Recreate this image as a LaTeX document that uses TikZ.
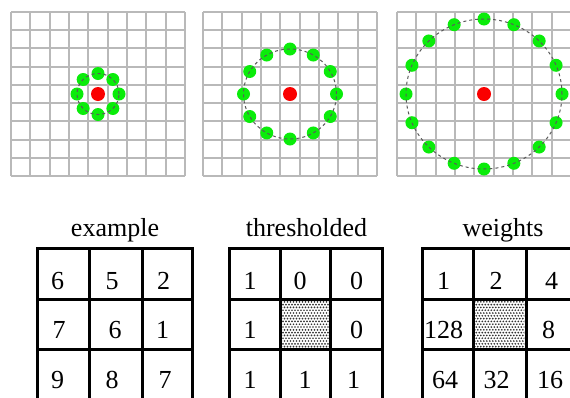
\documentclass[tikz,border=0pt]{standalone}
\usepackage{fontspec}
\setmainfont{Liberation Serif}

\definecolor{ptgreen}{RGB}{10,236,10}
\definecolor{ptred}{RGB}{250,0,0}
\definecolor{gridgray}{RGB}{185,185,185}
\definecolor{ringgray}{RGB}{90,90,90}

\tikzset{
  gridline/.style={draw=gridgray, line width=2pt},
  tableline/.style={draw=black, line width=3pt, line cap=rect},
  greendot/.style={circle, fill=ptgreen, draw=none, minimum size=13pt, inner sep=0pt},
  reddot/.style={circle, fill=ptred, draw=none, minimum size=14pt, inner sep=0pt},
  ring/.style={draw=ringgray, line width=1pt, dash pattern=on 3pt off 3pt},
  caption/.style={font=\fontsize{26}{30}\selectfont, anchor=base, inner sep=0pt},
  cellnum/.style={font=\fontsize{26}{30}\selectfont, anchor=base, inner sep=0pt},
  stippledot/.style={fill=black!80}
}

\begin{document}
\begin{tikzpicture}[x=1pt,y=-1pt]
\useasboundingbox (0,0) rectangle (570,397);
\clip (0,0) rectangle (570,397);
\fill[white] (0,0) rectangle (570,397);

% ---- three 9x9 pixel grids (lines snapped to whole points) ----
\foreach \gx in {11,203,397} {
  \pgfmathsetmacro\gr{\gx+174}
  \foreach \i in {0,...,9} {
    \pgfmathsetmacro\vx{round(\gx+\i*19.3333)}
    \pgfmathsetmacro\hy{round(12+\i*18.2222)}
    \draw[gridline] (\vx,12) -- (\vx,176);
    \draw[gridline] (\gx,\hy) -- (\gr,\hy);
  }
}

% ---- circular neighbourhoods: 8, 12 and 16 sampling points ----
\node[reddot] (c1) at (98,94) {};
\node[reddot] (c2) at (290,94) {};
\node[reddot] (c3) at (484,94) {};

\foreach \k in {0,...,7}
  \node[greendot] (a\k) at ({98+21*cos(\k*45)},{94+20.5*sin(\k*45)}) {};
\draw[ring] (c1) ellipse [x radius=21pt, y radius=20.5pt];

\foreach \k in {0,...,11}
  \node[greendot] (b\k) at ({290+46.5*cos(\k*30)},{94+45*sin(\k*30)}) {};
\draw[ring] (c2) ellipse [x radius=46.5pt, y radius=45pt];

\foreach \k in {0,...,15}
  \node[greendot] (d\k) at ({484+78*cos(\k*22.5)},{94+75*sin(\k*22.5)}) {};
\draw[ring] (c3) ellipse [x radius=78pt, y radius=75pt];

% ---- captions ----
\node[caption] (lblex) at (115,236) {example};
\node[caption] (lblth) at (306.5,236) {thresholded};
\node[caption] (lblwt) at (503,236) {weights};

% ---- stippled centre cells (hexagonal dot screen) ----
\foreach \sx in {280,473.3} {
  \begin{scope}
    \clip (\sx,299) rectangle ++(51,50.3);
    \foreach \r in {0,...,18} {
      \pgfmathsetmacro\off{mod(\r,2)*1.5}
      \foreach \c in {0,...,18}
        \fill[stippledot] ({\sx+\off+\c*3},{299+\r*2.8}) circle[radius=0.95pt];
    }
  \end{scope}
}

% ---- table borders ----
\foreach \a/\b/\c/\d in {37.3/89.3/142.7/192.7, 229.3/280/330.7/382.7, 422.3/473.3/526/578} {
  \foreach \xx in {\a,\b,\c,\d}
    \draw[tableline] (\xx,248.3) -- (\xx,402);
  \foreach \yy in {248.3,299,349.3}
    \draw[tableline] (\a,\yy) -- (\d,\yy);
}

% ---- example ----
\node[cellnum] (e11) at (57.5,289.5) {6};
\node[cellnum] (e12) at (112,289.5) {5};
\node[cellnum] (e13) at (163.5,289.5) {2};
\node[cellnum] (e21) at (59,338.5) {7};
\node[cellnum] (e22) at (115,338.5) {6};
\node[cellnum] (e23) at (162.5,338.5) {1};
\node[cellnum] (e31) at (57.5,388) {9};
\node[cellnum] (e32) at (112,388) {8};
\node[cellnum] (e33) at (165,388) {7};

% ---- thresholded ----
\node[cellnum] (t11) at (250,289.5) {1};
\node[cellnum] (t12) at (300,289.5) {0};
\node[cellnum] (t13) at (356.5,289.5) {0};
\node[cellnum] (t21) at (250,338.5) {1};
\node[cellnum] (t23) at (356.5,338.5) {0};
\node[cellnum] (t31) at (250,388) {1};
\node[cellnum] (t32) at (305,388) {1};
\node[cellnum] (t33) at (353.5,388) {1};

% ---- weights ----
\node[cellnum] (w11) at (443.5,289.5) {1};
\node[cellnum] (w12) at (496,289.5) {2};
\node[cellnum] (w13) at (551.5,289.5) {4};
\node[cellnum] (w21) at (443.5,338.5) {128};
\node[cellnum] (w23) at (548.5,338.5) {8};
\node[cellnum] (w31) at (445,388) {64};
\node[cellnum] (w32) at (496.5,388) {32};
\node[cellnum] (w33) at (550,388) {16};
\end{tikzpicture}
\end{document}
